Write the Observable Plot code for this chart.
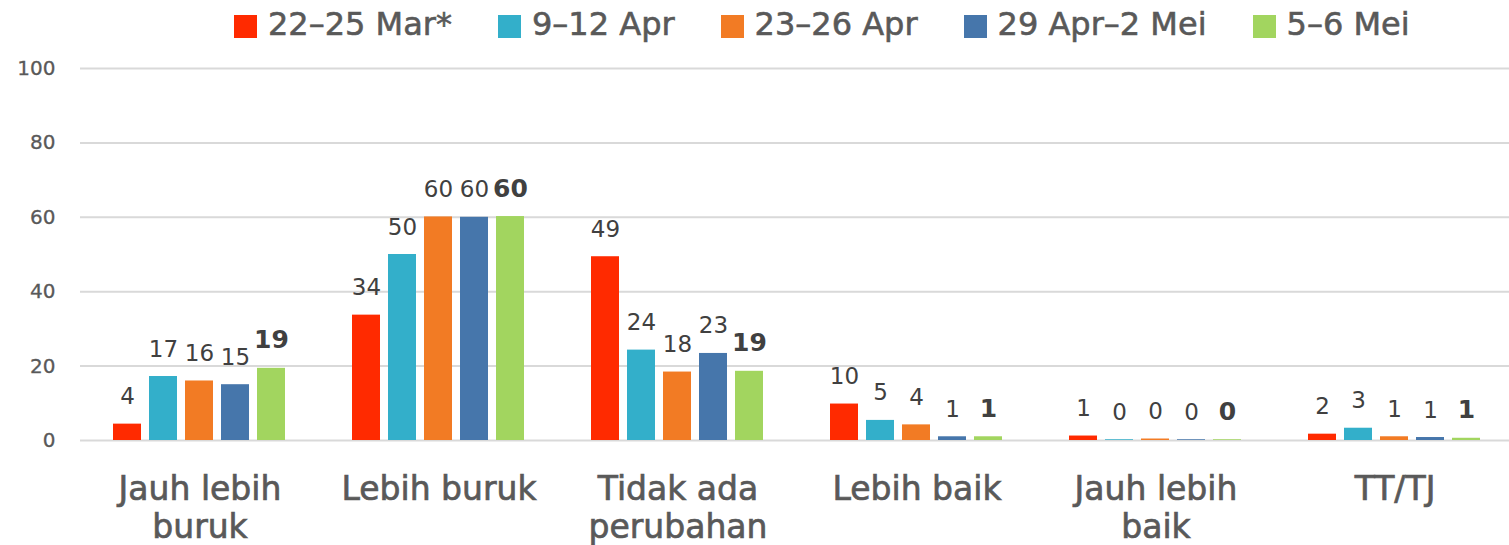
<!DOCTYPE html>
<html>
<head>
<meta charset="utf-8">
<script src="https://cdn.jsdelivr.net/npm/d3@7"></script>
<script src="https://cdn.jsdelivr.net/npm/@observablehq/plot@0.6"></script>
<style>
  html, body { margin: 0; padding: 0; background: #ffffff; }
  body { width: 1509px; height: 545px; overflow: hidden; font-family: "DejaVu Sans", sans-serif; }
  #legend { height: 48px; display: flex; align-items: flex-start; padding-left: 234px; box-sizing: border-box; }
  .item { display: flex; align-items: flex-start; margin-right: 46px; }
  .sw { width: 23px; height: 23px; margin-top: 15px; margin-right: 11px; }
  .lbl { font-size: 32px; line-height: 48px; color: #595959; white-space: nowrap; -webkit-text-stroke: 0.6px #595959; }
  #chart svg { display: block; }
  #chart svg g[aria-label="fx-axis tick label"] text { stroke: #595959; stroke-width: 0.7px; }
  #chart svg g[aria-label="y-axis tick label"] text { stroke: #595959; stroke-width: 0.3px; }
</style>
</head>
<body>
<div id="legend"></div>
<div id="chart"></div>
<script>
const categories = ["Jauh lebih buruk", "Lebih buruk", "Tidak ada perubahan", "Lebih baik", "Jauh lebih baik", "TT/TJ"];
const categoryLines = ["Jauh lebih\nburuk", "Lebih buruk", "Tidak ada\nperubahan", "Lebih baik", "Jauh lebih\nbaik", "TT/TJ"];
const series = ["22–25 Mar*", "9–12 Apr", "23–26 Apr", "29 Apr–2 Mei", "5–6 Mei"];
const colors = ["#ff2a00", "#33afca", "#f27b24", "#4676ab", "#a2d55f"];
const yTicks = [0, 20, 40, 60, 80, 100];

const mar22_25 = [4.4, 33.7, 49.4, 9.8, 1.2, 1.7];
const apr9_12 = [17.2, 50.0, 24.3, 5.4, 0.2, 3.3];
const apr23_26 = [16.0, 60.1, 18.4, 4.2, 0.4, 1.0];
const apr29_mei2 = [15.0, 60.0, 23.4, 1.0, 0.2, 0.8];
const mei5_6 = [19.4, 60.2, 18.6, 1.0, 0.2, 0.6];
const seriesValues = [mar22_25, apr9_12, apr23_26, apr29_mei2, mei5_6];

const data = [];
series.forEach((s, si) => {
  categories.forEach((c, ci) => {
    data.push({category: c, series: s, value: seriesValues[si][ci], last: si === series.length - 1});
  });
});

// Legend
const legend = document.getElementById("legend");
series.forEach((s, i) => {
  const item = document.createElement("div");
  item.className = "item";
  const sw = document.createElement("div");
  sw.className = "sw";
  sw.style.background = colors[i];
  const lbl = document.createElement("div");
  lbl.className = "lbl";
  lbl.textContent = s;
  item.appendChild(sw);
  item.appendChild(lbl);
  legend.appendChild(item);
});

const chart = Plot.plot({
  width: 1509,
  height: 497,
  marginTop: 20,
  marginBottom: 105,
  marginLeft: 78,
  marginRight: -7,
  style: {fontFamily: "DejaVu Sans", background: "#ffffff"},
  fx: {domain: categories, padding: 0, label: null},
  x: {domain: series, paddingInner: 0.216, paddingOuter: 0.847, axis: null},
  y: {domain: [0, 100], label: null},
  color: {domain: series, range: colors},
  marks: [
    Plot.gridY(yTicks, {stroke: "#d9d9d9", strokeOpacity: 1, strokeWidth: 2}),
    Plot.axisY(yTicks, {tickSize: 0, tickPadding: 25, fontSize: 20, color: "#595959", label: null}),
    Plot.axisFx({anchor: "bottom", tickSize: 0, tickPadding: 33, fontSize: 33, lineHeight: 1.15, color: "#595959", label: null,
      tickFormat: d => categoryLines[categories.indexOf(d)]}),
    Plot.barY(data, {fx: "category", x: "series", y: "value", fill: "series"}),
    Plot.text(data.filter(d => !d.last), {fx: "category", x: "series", y: "value", text: d => String(Math.round(d.value)),
      lineAnchor: "bottom", dy: -20, fontSize: 23, fill: "#404040"}),
    Plot.text(data.filter(d => d.last), {fx: "category", x: "series", y: "value", text: d => String(Math.round(d.value)),
      lineAnchor: "bottom", dy: -20, fontSize: 25, fontWeight: "bold", fill: "#404040"})
  ]
});
document.getElementById("chart").appendChild(chart);
</script>
</body>
</html>
